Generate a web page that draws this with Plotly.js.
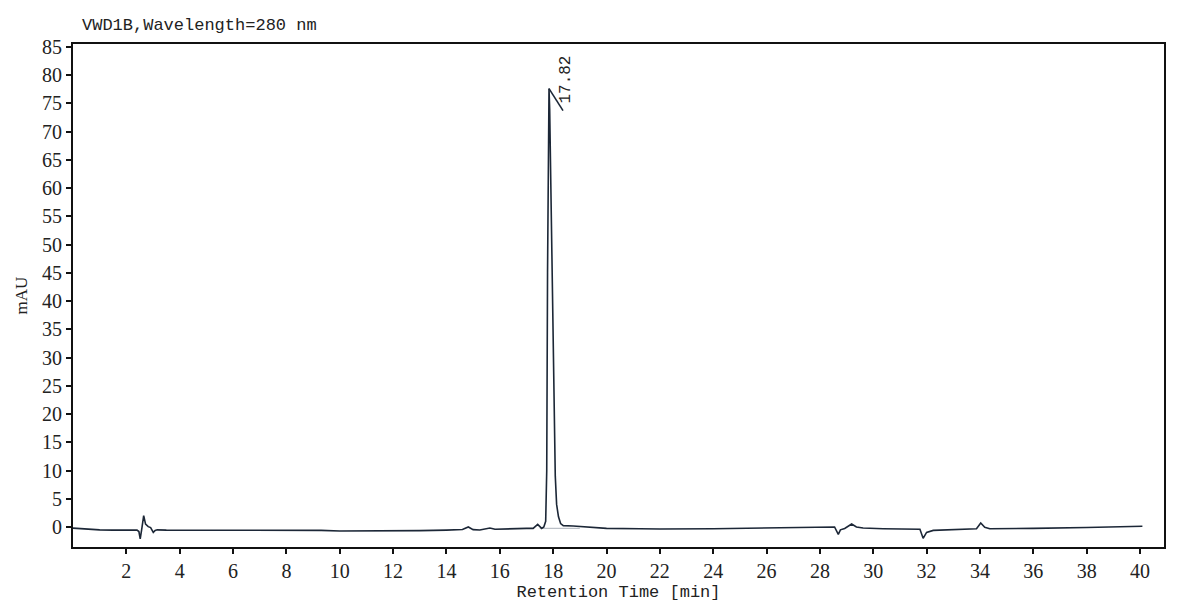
<!DOCTYPE html>
<html>
<head>
<meta charset="utf-8">
<script src="https://cdn.plot.ly/plotly-3.0.1.min.js"></script>
<style>
  html, body { margin: 0; padding: 0; background: #fff; }
  #chart { width: 1200px; height: 606px; }
</style>
</head>
<body>
<div id="chart"></div>
<script>
// Chromatogram: retention time [min] and signal [mAU]
var rt = [0.0, 0.5, 1.0, 1.5, 2.0, 2.4, 2.47, 2.52, 2.58, 2.65, 2.72, 2.82, 2.91, 3.01, 3.08, 3.16,
          3.5, 5, 7, 8.5, 9.3, 10, 11, 12, 13, 14, 14.6, 14.82, 15.0, 15.25, 15.63, 15.82,
          16.2, 16.63, 17.0, 17.25, 17.42, 17.57, 17.65,
          17.72, 17.76, 17.79, 17.82, 17.845, 17.87, 17.90, 17.94, 17.97, 18.01, 18.05, 18.08,
          18.13, 18.20, 18.28, 18.38, 18.75, 19.38, 20.0, 21.25, 22, 24, 26, 27.25, 28.0,
          28.55, 28.69, 28.77, 28.93, 29.19, 29.37, 29.62, 30.37, 31.0, 31.75, 31.87, 32.0,
          32.25, 32.87, 33.5, 33.87, 34.03, 34.18, 34.37, 35, 36, 38, 40.09];
var mau = [-0.2, -0.4, -0.5, -0.55, -0.55, -0.55, -0.8, -2.1, -0.3, 2.0, 0.5, 0.06, -0.1, -0.94, -0.6, -0.5,
           -0.55, -0.55, -0.55, -0.5, -0.6, -0.72, -0.72, -0.72, -0.65, -0.55, -0.45, 0.0, -0.47, -0.53, -0.18, -0.4,
           -0.35, -0.18, -0.25, -0.25, 0.47, -0.25, 0.0,
           1, 10, 45, 72, 77.6, 74, 64, 48, 38, 25, 15, 9,
           4, 1.8, 0.6, 0.25, 0.18, -0.05, -0.25, -0.3, -0.35, -0.3, -0.15, 0.0, 0.05,
           0.0, -1.3, -0.5, -0.25, 0.53, 0.0, -0.18, -0.3, -0.38, -0.41, -2.0, -0.95,
           -0.6, -0.47, -0.38, -0.3, 0.7, -0.06, -0.3, -0.3, -0.25, -0.1, 0.12];

// integration baseline under the main peak
var baseX = [17.5, 19.0];
var baseY = [-0.23, -0.23];

// peak label
var peakTime = 17.82;
var markX = [17.845, 18.37];
var markY = [77.6, 73.7];

var xTicks = [2, 4, 6, 8, 10, 12, 14, 16, 18, 20, 22, 24, 26, 28, 30, 32, 34, 36, 38, 40];
var yTicks = [0, 5, 10, 15, 20, 25, 30, 35, 40, 45, 50, 55, 60, 65, 70, 75, 80, 85];

var serif = 'Liberation Serif, Times New Roman, serif';
var mono = 'Liberation Mono, DejaVu Sans Mono, monospace';

var traces = [
  {
    x: baseX, y: baseY, type: 'scatter', mode: 'lines',
    line: {color: '#a9b0b8', width: 1}, hoverinfo: 'skip', showlegend: false
  },
  {
    x: rt, y: mau, type: 'scatter', mode: 'lines',
    line: {color: '#1c2737', width: 1.6}, showlegend: false
  },
  {
    x: markX, y: markY, type: 'scatter', mode: 'lines',
    line: {color: '#1c2737', width: 1.6}, hoverinfo: 'skip', showlegend: false
  }
];

var layout = {
  width: 1200, height: 606,
  margin: {l: 73, r: 36, t: 44, b: 59},
  paper_bgcolor: '#fff', plot_bgcolor: '#fff',
  title: {
    text: 'VWD1B,Wavelength=280 nm',
    font: {family: mono, size: 17, color: '#222'},
    x: 82 / 1200, xref: 'container', xanchor: 'left',
    y: 1 - 24 / 606, yref: 'container', yanchor: 'middle'
  },
  xaxis: {
    range: [0, 40.9],
    tickvals: xTicks, ticktext: xTicks.map(String),
    ticks: 'outside', ticklen: 5, tickwidth: 2, tickcolor: '#111',
    showline: true, linecolor: '#111', linewidth: 2, mirror: true,
    showgrid: false, zeroline: false,
    tickfont: {family: serif, size: 20, color: '#222'},
    title: {text: 'Retention Time [min]', font: {family: mono, size: 17, color: '#222'}, standoff: 4}
  },
  yaxis: {
    range: [-3.54, 85.5],
    tickvals: yTicks, ticktext: yTicks.map(String),
    ticks: 'outside', ticklen: 5, tickwidth: 2, tickcolor: '#111',
    showline: true, linecolor: '#111', linewidth: 2, mirror: true,
    showgrid: false, zeroline: false,
    tickfont: {family: serif, size: 20, color: '#222'},
    title: {text: 'mAU', font: {family: serif, size: 17, color: '#222'}, standoff: 10}
  },
  annotations: [{
    x: 18.48, y: 79.2, xref: 'x', yref: 'y',
    text: peakTime.toFixed(2), textangle: -90, showarrow: false,
    font: {family: mono, size: 16, color: '#222'},
    xanchor: 'center', yanchor: 'middle'
  }]
};

Plotly.newPlot('chart', traces, layout, {displayModeBar: false, staticPlot: true});
</script>
</body>
</html>
